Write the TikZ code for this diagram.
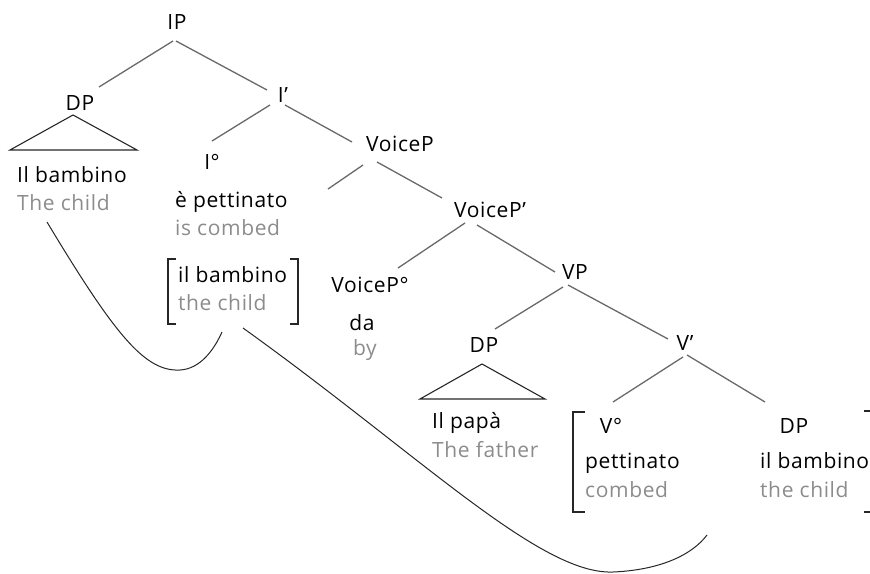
\documentclass[tikz,border=0pt]{standalone}
\usepackage{fontspec}
\setmainfont[LetterSpace=3]{Open Sans}

\definecolor{glossgray}{RGB}{140,140,140}
\definecolor{branchgray}{RGB}{105,105,105}

\tikzset{
  cat/.style={anchor=base, inner sep=1pt},
  word/.style={anchor=base west, inner sep=0pt},
  gloss/.style={word, text=glossgray},
  branch/.style={draw=branchgray, line width=1.3pt},
  tri/.style={draw=black!85, line width=1.1pt},
  bracket/.style={draw=black!85, line width=1.1pt},
  move/.style={draw=black!85, line width=1pt},
}

\begin{document}
\begin{tikzpicture}[x=1pt, y=-1pt, every node/.style={font=\fontsize{21}{25}\selectfont}]
\useasboundingbox (0,0) rectangle (870,573);

% categories
\node[cat] (IP) at (177,29) {IP};
\node[cat] (DPa) at (80,110) {DP};
\node[cat] (Ibar) at (283,102) {I’};
\node[cat] (Ihead) at (212,169) {I°};
\node[cat] (VoiceP) at (400,151) {VoiceP};
\node[cat] (VoiceBar) at (490,217) {VoiceP’};
\node[cat] (VoiceHead) at (370,292) {VoiceP°};
\node[cat] (VP) at (575,279) {VP};
\node[cat] (DPb) at (484,352) {DP};
\node[cat] (Vbar) at (685,350) {V’};
\node[cat] (Vhead) at (611,433) {V°};
\node[cat] (DPc) at (794,433) {DP};
\coordinate (spec) at (328,189);

% words and glosses
\node[word] (subj) at (17,182) {Il bambino};
\node[gloss] (glSubj) at (17,210) {The child};
\node[word] (aux) at (175,207) {è pettinato};
\node[gloss] (glAux) at (175,235) {is combed};
\node[word] (trace) at (178,282) {il bambino};
\node[gloss] (glTrace) at (178,310) {the child};
\node[cat] (da) at (362,330) {da};
\node[cat, text=glossgray] (by) at (365,355) {by};
\node[word] (papa) at (432,428) {Il papà};
\node[gloss] (glPapa) at (432,457) {The father};
\node[word] (verb) at (585,468) {pettinato};
\node[gloss] (glVerb) at (585,497) {combed};
\node[word] (obj) at (760,468) {il bambino};
\node[gloss] (glObj) at (760,497) {the child};

% branches
\draw[branch] ([shift={(-4,12)}]IP.base) -- ([shift={(19,-23)}]DPa.base);
\draw[branch] ([shift={(-1,12)}]IP.base) -- ([shift={(-16,-12)}]Ibar.base);
\draw[branch] ([shift={(-13,3)}]Ibar.base) -- ([shift={(0,-28)}]Ihead.base);
\draw[branch] ([shift={(2,3)}]Ibar.base) -- ([shift={(-48,-9)}]VoiceP.base);
\draw[branch] ([shift={(-37,14)}]VoiceP.base) -- (spec);
\draw[branch] ([shift={(-23,11)}]VoiceP.base) -- ([shift={(-48,-19)}]VoiceBar.base);
\draw[branch] ([shift={(-25,6)}]VoiceBar.base) -- ([shift={(28,-24)}]VoiceHead.base);
\draw[branch] ([shift={(-13,8)}]VoiceBar.base) -- ([shift={(-20,-7)}]VP.base);
\draw[branch] ([shift={(-12,8)}]VP.base) -- ([shift={(11,-23)}]DPb.base);
\draw[branch] ([shift={(-7,6)}]VP.base) -- ([shift={(-17,-11)}]Vbar.base);
\draw[branch] ([shift={(-2,7)}]Vbar.base) -- ([shift={(2,-31)}]Vhead.base);
\draw[branch] ([shift={(2,5)}]Vbar.base) -- ([shift={(-29,-31)}]DPc.base);

% triangles
\draw[tri] (73,115) -- (10,150) -- (137,150) -- cycle;
\draw[tri] (482,364) -- (420,399) -- (545,399) -- cycle;

% brackets
\draw[bracket] (176,259) -- (168,259) -- (168,324) -- (176,324);
\draw[bracket] (290,259) -- (298,259) -- (298,324) -- (290,324);
\draw[bracket] (585,412) -- (573,412) -- (573,512) -- (585,512);
\draw[bracket] (864,411) -- (871,411) -- (871,512) -- (864,512);

% movement
\coordinate (srcA) at (47,222);
\coordinate (tgtA) at (222,332);
\coordinate (srcB) at (243,328);
\coordinate (tgtB) at (707,535);
\draw[move] (srcA) .. controls (115,335) and (145,372) .. (180,370)
  .. controls (200,369) and (214,350) .. (tgtA);
\draw[move] (srcB) .. controls (420,455) and (540,575) .. (613,572)
  .. controls (660,570) and (692,555) .. (tgtB);
\end{tikzpicture}
\end{document}
